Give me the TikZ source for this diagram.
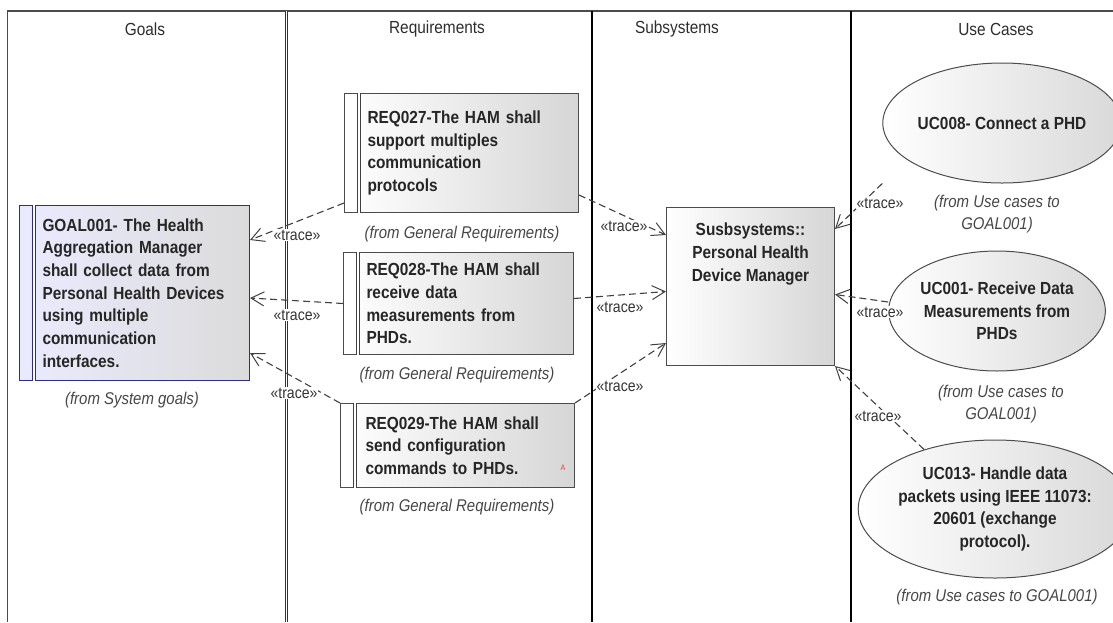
\documentclass[tikz,border=0pt]{standalone}
\usepackage{fontspec}
\setmainfont{Liberation Sans}[FakeStretch=0.88]
\usetikzlibrary{arrows.meta,shapes.geometric}
\definecolor{goalblue}{RGB}{45,45,140}
\definecolor{inkgray}{RGB}{45,45,45}
\definecolor{fromgray}{RGB}{70,70,70}
\tikzset{
  lanetitle/.style={font=\fontsize{17.5}{20}\selectfont, text=inkgray},
  boxfont/.style={font=\fontsize{17.5}{22.7}\selectfont\bfseries, text=black!85},
  reqbox/.style={boxfont, draw=black!70, line width=1pt, left color=white, right color=gray!32,
    anchor=north west, inner sep=0pt, align=left},
  goalbox/.style={reqbox, draw=goalblue, left color=white!92!blue, right color=gray!28},
  subbox/.style={reqbox, align=center},
  ucell/.style={ellipse, boxfont, draw=black!70, line width=1pt, left color=white, right color=gray!30,
    inner sep=0pt, align=center},
  bar/.style={double, double distance=1.8pt, line width=0.8pt},
  trace/.style={draw=black!75, line width=1.1pt, dash pattern=on 7pt off 4pt,
    -{Straight Barb[length=13pt,width=14pt,line width=1pt]}},
  tracelbl/.style={font=\fontsize{16}{16}\selectfont, text=black!80, inner sep=0.5pt},
  fromlbl/.style={font=\fontsize{17}{21.5}\selectfont\itshape, text=fromgray, align=center, inner sep=0pt}
}
\begin{document}
\begin{tikzpicture}[x=1pt, y=-1pt]
\useasboundingbox (0,0) rectangle (1113,622);
\draw[line width=1.2pt, black!70] (7.7,622) -- (7.7,11) -- (1113,11);
\draw[bar, black!80] (286.5,11) -- (286.5,622);
\draw[line width=2.6pt] (592,11) -- (592,622);
\draw[line width=1.2pt] (851,11) -- (851,622);
\foreach \x/\t [count=\i] in {145/Goals, 437/Requirements, 677/Subsystems, 996/Use Cases}
  \node[lanetitle] (title\i) at (\x,29) {\t};

\node[goalbox, minimum width=230pt, minimum height=175pt, text width=184pt] (goal) at (19,205)
  {GOAL001- The Health\\Aggregation Manager\\shall collect data from\\Personal Health Devices\\using multiple\\communication\\interfaces.};
\node[reqbox, minimum width=234pt, minimum height=119pt, text width=188pt] (req27) at (344,93)
  {REQ027-The HAM shall\\support multiples\\communication\\protocols};
\node[reqbox, minimum width=230pt, minimum height=102pt, text width=184pt] (req28) at (343,252)
  {REQ028-The HAM shall\\receive data\\measurements from\\PHDs.};
\node[reqbox, minimum width=234pt, minimum height=84pt, text width=184pt] (req29) at (340,403)
  {REQ029-The HAM shall\\send configuration\\commands to PHDs.};
\node[subbox, minimum width=168pt, minimum height=158pt,
  label={[boxfont, align=center, anchor=north, inner sep=0pt, yshift=-16pt]north:{Susbsystems::\\Personal Health\\Device Manager}}]
  (sub) at (666,207) {};
\node[ucell, minimum width=180pt, minimum height=120pt] (uc08) at (1002,123) {UC008- Connect a PHD};
\node[ucell, minimum width=180pt, minimum height=120pt] (uc01) at (997,311) {UC001- Receive Data\\Measurements from\\PHDs};
\node[ucell, minimum width=210pt, minimum height=138pt] (uc13) at (995,509) {UC013- Handle data\\packets using IEEE 11073:\\20601 (exchange\\protocol).};

\draw[goalblue, bar] ([xshift=15pt]goal.north west) -- ([xshift=15pt]goal.south west);
\foreach \n in {req27,req28,req29}
  \draw[black!75, bar] ([xshift=15pt]\n.north west) -- ([xshift=15pt]\n.south west);
\node[text=red!80, font=\fontsize{8}{8}\selectfont] (mark) at (563,468) {A};

\node[fromlbl] (fgoal) at (132,400) {(from System goals)};
\node[fromlbl] (freq27) at (462,234) {(from General Requirements)};
\node[fromlbl] (freq28) at (457,375) {(from General Requirements)};
\node[fromlbl] (freq29) at (457,507) {(from General Requirements)};
\node[fromlbl] (fuc08) at (997,214) {(from Use cases to\\GOAL001)};
\node[fromlbl] (fuc01) at (1001,404) {(from Use cases to\\GOAL001)};
\node[fromlbl] (fuc13) at (997,597) {(from Use cases to GOAL001)};

\draw[trace] ([yshift=10pt]req27.south west) -- ([yshift=-35pt]goal.north east);
\draw[trace] (req28.west) -- ([yshift=-5pt]goal.east);
\draw[trace] (req29.north west) -- ([yshift=28pt]goal.south east);
\draw[trace] ([yshift=18pt]req27.south east) -- ([yshift=-28pt]sub.north west);
\draw[trace] ([yshift=5pt]req28.east) -- ([yshift=-5pt]sub.west);
\draw[trace] (req29.north east) -- ([yshift=23pt]sub.south west);
\draw[trace] (uc08.west |- uc08.south) -- ([yshift=-22pt]sub.north east);
\draw[trace] ([yshift=9pt]uc01.west) -- ([yshift=-8pt]sub.east);
\draw[trace] (uc13.140) -- (sub.south east);
\foreach \p [count=\i] in {(297,235), (297,315), (294,393), (624,226), (620,307), (620,386), (880,203), (880,312), (878,416)}
  \node[tracelbl, fill=white] (trace\i) at \p {«trace»};
\end{tikzpicture}
\end{document}
